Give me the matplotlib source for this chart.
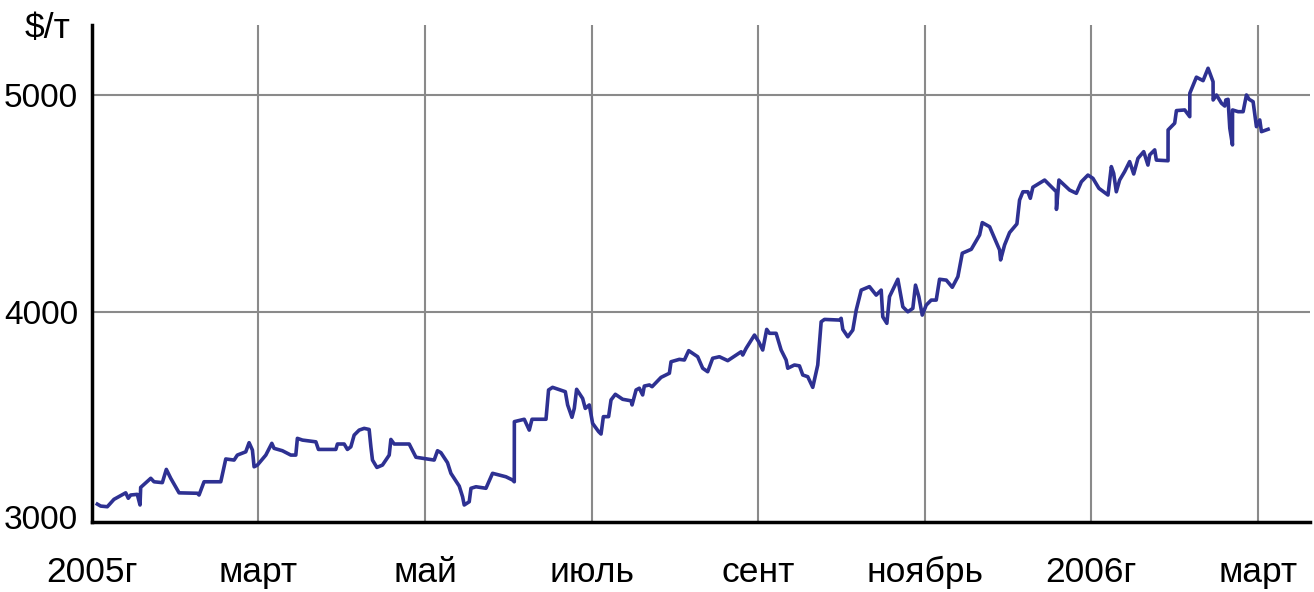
# aluminium price plot, 2005 - March 2006

import matplotlib.pyplot as plt

# months since 1 Jan 2005
months = [0.064, 0.105, 0.184, 0.264, 0.405, 0.436, 0.465, 0.544, 0.577, 0.585,
          0.706, 0.745, 0.845, 0.893, 0.946, 1.046, 1.266, 1.286, 1.346, 1.547,
          1.607, 1.707, 1.746, 1.847, 1.887, 1.927, 1.947, 1.987, 2.088, 2.160,
          2.187, 2.287, 2.388, 2.448, 2.467, 2.528, 2.689, 2.720, 2.929, 2.948,
          3.029, 3.068, 3.109, 3.149, 3.209, 3.269, 3.329, 3.350, 3.369, 3.422,
          3.489, 3.570, 3.590, 3.630, 3.810, 3.891, 4.110, 4.150, 4.191, 4.270,
          4.311, 4.411, 4.451, 4.471, 4.531, 4.552, 4.612, 4.732, 4.811, 4.972,
          5.052, 5.072, 5.073, 5.192, 5.252, 5.285, 5.453, 5.484, 5.532, 5.685,
          5.713, 5.765, 5.793, 5.821, 5.893, 5.925, 5.973, 6.013, 6.085, 6.114,
          6.142, 6.205, 6.234, 6.286, 6.374, 6.475, 6.487, 6.535, 6.574, 6.614,
          6.634, 6.695, 6.727, 6.835, 6.935, 6.955, 7.055, 7.115, 7.167, 7.275,
          7.335, 7.395, 7.455, 7.536, 7.636, 7.797, 7.816, 7.857, 7.957, 8.008,
          8.056, 8.104, 8.137, 8.217, 8.277, 8.337, 8.357, 8.437, 8.497, 8.537,
          8.597, 8.657, 8.717, 8.758, 8.798, 8.978, 8.998, 9.018, 9.078, 9.138,
          9.179, 9.239, 9.338, 9.419, 9.479, 9.498, 9.547, 9.579, 9.679, 9.739,
          9.799, 9.859, 9.891, 9.931, 9.972, 10.020, 10.080, 10.140, 10.180, 10.261,
          10.333, 10.400, 10.453, 10.561, 10.661, 10.693, 10.781, 10.901, 10.913, 10.961,
          11.021, 11.109, 11.141, 11.181, 11.241, 11.270, 11.301, 11.442, 11.583, 11.584,
          11.614, 11.742, 11.823, 11.883, 11.962, 12.022, 12.094, 12.203, 12.243, 12.271,
          12.303, 12.343, 12.403, 12.463, 12.512, 12.563, 12.632, 12.683, 12.704, 12.764,
          12.784, 12.924, 12.925, 13.004, 13.025, 13.125, 13.185, 13.186, 13.265, 13.345,
          13.405, 13.465, 13.466, 13.506, 13.566, 13.606, 13.618, 13.645, 13.666, 13.698,
          13.699, 13.766, 13.826, 13.866, 13.898, 13.946, 13.986, 14.026, 14.046, 14.126]

price = [3115, 3106, 3103, 3137, 3167, 3142, 3157, 3160, 3111, 3192,
         3234, 3218, 3214, 3275, 3234, 3167, 3165, 3157, 3218, 3218,
         3323, 3318, 3341, 3356, 3398, 3364, 3287, 3295, 3341, 3395,
         3372, 3361, 3341, 3341, 3418, 3410, 3402, 3367, 3367, 3392,
         3392, 3367, 3379, 3433, 3456, 3464, 3459, 3379, 3318, 3284,
         3295, 3341, 3413, 3392, 3392, 3331, 3318, 3361, 3352, 3306,
         3257, 3198, 3149, 3111, 3126, 3188, 3195, 3188, 3257, 3241,
         3226, 3218, 3495, 3506, 3456, 3506, 3506, 3641, 3653, 3633,
         3572, 3515, 3556, 3644, 3602, 3556, 3572, 3487, 3449, 3438,
         3518, 3518, 3595, 3621, 3598, 3591, 3572, 3641, 3649, 3618,
         3659, 3664, 3656, 3699, 3718, 3771, 3782, 3779, 3822, 3794,
         3741, 3725, 3787, 3794, 3776, 3817, 3802, 3833, 3894, 3863,
         3825, 3920, 3902, 3902, 3825, 3779, 3741, 3756, 3752, 3710,
         3702, 3653, 3756, 3955, 3966, 3963, 3971, 3920, 3886, 3917,
         4009, 4101, 4117, 4078, 4101, 3978, 3948, 4071, 4151, 4024,
         4001, 4017, 4124, 4071, 3986, 4032, 4055, 4055, 4151, 4147,
         4114, 4163, 4271, 4289, 4355, 4412, 4393, 4286, 4240, 4309,
         4366, 4406, 4516, 4554, 4554, 4524, 4575, 4608, 4554, 4473,
         4608, 4562, 4547, 4600, 4631, 4616, 4570, 4539, 4670, 4639,
         4554, 4608, 4647, 4693, 4636, 4708, 4739, 4677, 4724, 4747,
         4700, 4697, 4839, 4870, 4928, 4931, 4900, 5008, 5082, 5066,
         5123, 5061, 4977, 5000, 4962, 4949, 4977, 4980, 4847, 4770,
         4931, 4923, 4923, 5000, 4980, 4969, 4854, 4885, 4831, 4842]

month_ticks = [0, 2, 4, 6, 8, 10, 12, 14]
month_labels = ["2005г", "март", "май", "июль", "сент", "ноябрь", "2006г", "март"]
price_ticks = [3055, 4000, 5000]
price_labels = ["3000", "4000", "5000"]
grid_prices = [4000, 5000]


def plot(output_file):
    plt.rcParams['font.family'] = ['Liberation Sans', 'DejaVu Sans']

    fig = plt.figure(figsize=(13.14, 5.92), dpi=100)
    ax = fig.add_axes([0.070, 0.118, 0.927, 0.840])

    for m in month_ticks[1:]:
        ax.axvline(m, color="#8a8a8a", lw=1.5, zorder=1)
    for p in grid_prices:
        ax.axhline(p, color="#8a8a8a", lw=1.5, zorder=1)

    ax.plot(months, price, color="#2e3192", lw=2.6, zorder=3,
            solid_joinstyle="round")

    ax.set_xlim(0, 14.63)
    ax.set_ylim(3032, 5323)

    ax.set_xticks(month_ticks)
    ax.set_xticklabels(month_labels, fontsize=25.5)
    ax.set_yticks(price_ticks)
    ax.set_yticklabels(price_labels, fontsize=24)
    ax.tick_params(axis="x", length=0, pad=43)
    ax.tick_params(axis="y", length=0, pad=10)
    for lab in ax.get_xticklabels():
        lab.set_va("baseline")
    ax.get_xticklabels()[-1].set_x(14.22)

    for side in ["top", "right"]:
        ax.spines[side].set_visible(False)
    ax.spines["left"].set_linewidth(2.5)
    ax.spines["bottom"].set_linewidth(2.5)

    fig.text(0.036, 0.952, "$/т", fontsize=25.5, ha="center", va="center")

    fig.savefig(output_file, dpi=100)


def main():
    plot("out.png")


if __name__ == "__main__":
    main()
